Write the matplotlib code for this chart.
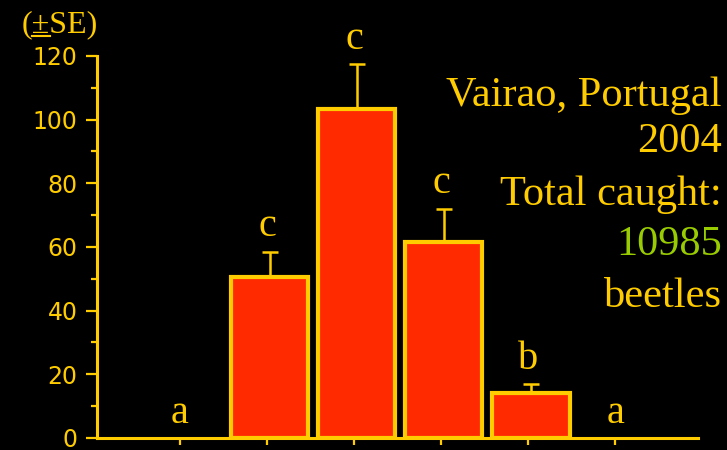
import matplotlib
matplotlib.use('Agg')
import matplotlib.pyplot as plt
from matplotlib.lines import Line2D
import numpy as np

# data
categories = ['1', '2', '3', '4', '5', '6']
means = [0, 50.5, 103.5, 61.5, 14, 0]
se = [0, 8, 14, 10.5, 3, 0]
letters = ['a', 'c', 'c', 'c', 'b', 'a']
info_lines = ['Vairao, Portugal', '2004', 'Total caught:', '10985', 'beetles']
info_colors = ['#FFCC00', '#FFCC00', '#FFCC00', '#99CC00', '#FFCC00']

gold = '#FFCC00'
red = '#FF2A00'

fig = plt.figure(figsize=(7.27, 4.5), dpi=100, facecolor='black')
ax = fig.add_axes([0.1334, 0.0267, 0.8266, 0.8489])
ax.set_facecolor('black')

x = np.arange(len(categories))
lower = np.zeros(len(se))
edge_w = [0 if m == 0 else 3 for m in means]
ax.bar(x + 0.03, means, width=0.89, color=red, edgecolor=gold, linewidth=edge_w,
       yerr=[lower, se], error_kw=dict(ecolor=gold, elinewidth=1.8,
                                        capsize=6, capthick=1.8),
       zorder=2)

for xi, m, s, lab in zip(x, means, se, letters):
    ax.text(xi, m + s + 2.0, lab, ha='center', va='bottom', color=gold,
            fontsize=29, family='Liberation Serif')

ax.set_xlim(-0.954, 5.95)
ax.set_ylim(0, 120)
ax.set_xticks(x)
ax.set_xticklabels([])
ax.set_yticks(np.arange(0, 121, 20))
ax.set_yticks(np.arange(10, 120, 20), minor=True)
ax.tick_params(axis='y', which='major', length=8, width=1.6, color=gold,
               labelcolor=gold, labelsize=17, pad=6)
ax.tick_params(axis='y', which='minor', length=4.5, width=1.6, color=gold)
ax.tick_params(axis='x', which='major', length=5, width=1.6, color=gold)

for side in ['top', 'right']:
    ax.spines[side].set_visible(False)
for side in ['left', 'bottom']:
    ax.spines[side].set_color(gold)
    ax.spines[side].set_linewidth(2.2)

# "(±SE)" with the ± underlined
fs_se = 23
se_txt = fig.text(0.03, 0.945, '(±SE)', color=gold, fontsize=fs_se,
                  ha='left', va='center', family='Liberation Serif')
paren = fig.text(0.03, 0.945, '(', fontsize=fs_se, ha='left', va='center',
                 family='Liberation Serif', alpha=0)
pm = fig.text(0.03, 0.945, '(±', fontsize=fs_se, ha='left', va='center',
              family='Liberation Serif', alpha=0)
fig.canvas.draw()
r = fig.canvas.get_renderer()
b1 = paren.get_window_extent(r)
b2 = pm.get_window_extent(r)
W, H = fig.bbox.width, fig.bbox.height
uy = (b2.y0 + 3) / H
fig.add_artist(Line2D([b1.x1 / W, b2.x1 / W], [uy, uy], color=gold, lw=1.5,
                      transform=fig.transFigure))

ys = [0.787, 0.686, 0.568, 0.457, 0.341]
for txt, col, yy in zip(info_lines, info_colors, ys):
    fig.text(0.993, yy, txt, color=col, ha='right', va='center',
             fontsize=30.5, family='Liberation Serif')

fig.savefig('out.png', dpi=100, facecolor='black')
